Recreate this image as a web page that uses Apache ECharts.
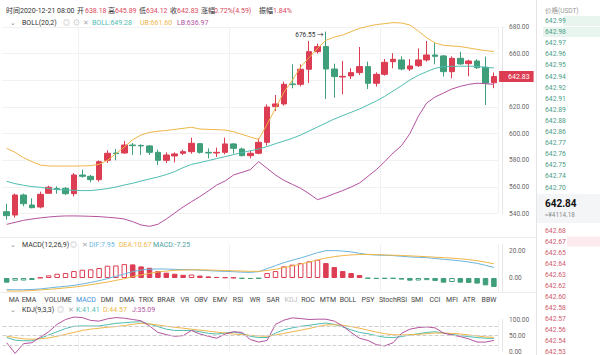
<!DOCTYPE html>
<html><head><meta charset="utf-8">
<script src="https://cdn.jsdelivr.net/npm/echarts@6/dist/echarts.min.js"></script>
<style>html,body{margin:0;padding:0;background:#fff}#c{width:600px;height:355px}</style>
</head><body><div id="c"></div>
<script>
// ---------- data ----------
const categories = [];
(function(){ const end = Date.UTC(2020,11,21,8); for (let i=58;i>=0;i--){ const d=new Date(end-i*4*3600e3); categories.push(d.toISOString().slice(0,16).replace('T',' ')); } })();
const opens = [541.5,539,554,546.5,545,555.3,558.8,559,555,569,
  568,565.5,580,585.5,585.5,591.5,591.2,590.8,586,580,
  583.3,585.3,586.5,592.5,586,585.5,586,592.3,588.5,583.5,
  585.3,593.5,620.3,622.3,637.3,637,648.3,661.5,665.3,648.5,
  642.5,643.3,645.8,650.3,637.8,644.5,654,655.3,648.5,651,
  655.3,659,658.3,646.5,656.5,652.5,654.5,649.8,638.18];
const closes = [538.5,554,547.5,544.5,554.5,559.8,558.2,555,569,568,
  565.5,579,585.3,585,591.5,591,590.8,586,580,584,
  584.8,586.5,592.8,586,585.5,586,592.3,589,583.5,585.3,
  593.5,620,622.3,637,636.8,648.3,661.5,665.3,648.5,642.8,
  643,645.8,650.3,637.8,644.5,653.5,655.8,648.5,650.8,655.3,
  659,658,646.5,656.5,652.3,654.5,649.5,637.8,642.83];
const lows = [535.55,537,545.5,544,544,555,555,554,553,567,
  563.5,564,578,580,585,584,584,584,576.5,578,
  578.5,584,585,585,581.5,582.5,584.5,585,583,581.5,
  584.5,591,617,621,634,635.5,638,660,626,627,
  629.5,641,644,633.5,635.3,643.5,649,647.5,647,650,
  654,652,642.8,641.5,651.5,643,648.5,621.5,634.12];
const highs = [547.5,555,555,551.5,556.5,561,560.5,560,570.5,573,
  569,580,587.5,588.5,594.5,593,592,591.5,588,586,
  586,588,597,593,589,589.5,597,593,589.5,587,
  596.5,622,629,639,652,652,669.5,667.5,676.55,652.5,
  654.5,649,665,654,646,656,660.3,658,656,664,
  669.5,668,659,658,661.5,655.5,655.8,657.8,645.89];
const bollUpper = [589,586,582,579,576.5,575.8,575.7,575.7,575.7,575.8,
  576,577,580,585,590,595.5,599,601,601.8,602.4,
  603.2,604,604.8,603.5,603.2,603,602.7,601.5,599.5,597.5,
  595.7,607,619,631,640,650,657,664,670,672.5,
  674,676.5,679,680.5,681.8,682.5,683.3,683,681.5,677,
  672,668,666.3,665.8,665.3,664.3,663.2,662.3,661.6];
const bollMid = [564.3,562.5,561.3,560.3,559.8,558.8,558,557.8,557.5,557.3,
  557.3,558,558.8,560,561.5,562.8,564.5,566,567.5,569.3,
  571.5,574.5,577,578.3,579.8,581.3,582.8,584.3,585.8,587.2,
  588.5,590.3,592.5,594.5,596.5,599,602,605,608,611,
  613.5,616,618.5,621.5,624.5,628,632,636,640.3,643.8,
  646.5,649,650.2,650.5,650.6,650.6,650.4,649.8,649.28];
const bollLower = [532,533.5,535,536,536.8,537.5,538,538.3,538.3,538.2,
  538,537.8,537.3,536.8,536,534,531.5,530.5,532,536,
  540.5,545,549,552.8,557,561.5,564.5,569,571,573,
  579,574,569,565,562,559,555,550.5,552.5,555,
  557.3,560,563,568,573,579,585.5,591,600,613,
  623,627.5,630.5,633.5,635.5,637,637.8,637.5,636.97];
const macdHist = [-3.5,-2,-1.9,-1.5,0.3,2,3.2,3.7,5.2,6.2,
  6.5,7.5,9.2,9.4,10.4,10.2,8.7,7.7,5.2,4,
  3.2,2.4,2.6,1.8,1.2,0.8,0.5,0.3,-0.5,-0.7,
  -0.4,3.7,5.2,8.7,10,11.2,12.5,13.7,11.2,8.2,
  5.2,3.7,2.2,-0.3,-0.6,-0.5,-0.4,-1.2,-2,-1.9,
  -1.6,-2.2,-3.5,-3,-3.5,-3.7,-4.2,-5.5,-6.7];
const difLine = [-8.7,-8.8,-8.8,-8.6,-8.2,-7.5,-6.8,-6.2,-5.5,-4.5,
  -3.3,-2,-0.5,1.3,3,4.8,6,6.6,6.8,6.7,
  6.5,6.3,6.2,5.9,5.5,5.2,5,4.7,4.4,4.2,
  4.8,7,9.3,11.5,13.3,15,17,19,20.5,20.6,
  20.2,19.6,18.5,17.6,17.2,17,16.8,16.3,15.8,15.5,
  15.2,14.7,14,13.5,12.8,12,11,9.5,7.95];
const deaLine = [-9.7,-9.8,-9.7,-9.4,-9,-8.5,-8,-7.4,-6.8,-6,
  -5,-4,-3,-1.8,-0.5,1,2.3,3.5,4.5,5.2,
  5.7,6,6.1,6.1,6,5.8,5.6,5.4,5.2,5,
  5,5.6,6.5,7.8,9,10.5,12,13.5,15,16,
  16.8,17.3,17.6,17.7,17.6,17.3,17.1,16.9,16.6,16.3,
  16,15.6,15.3,14.9,14.4,13.8,13,11.9,10.67];
const kLine = [44,36,34,34,42,52,62,72,79,80,
  80,80,84,88,90,92,93,86,78,70,
  66,66,66,62,57,55,58,61,57,48,
  44,44,58,68,74,79,82,86,89,85,
  77,68,60,56,50,45,44,47,52,56,
  60,62,58,54,50,47,44,42,41.41];
const dLine = [48,44,40,39,40,43,48,54,60,66,
  70,73,76,78,81,85,88,86,83,79,
  76,73,70,67,64,61,58,55,53,51,
  49,48,52,57,62,67,72,78,83,84,
  82,78,73,67,61,56,53,52,53,54,
  56,58,58,57,55,52,49,46,44.57];
const jLine = [28,-5,25,28,45,62,85,100,107.7,106,
  97,95,102,106,104,100,96,80,60,53,
  48,50,66,55,48,42,55,62,60,38,
  30,35,85,98,105,103,100,101,101,95,
  80,60,42,35,22,18,28,57,70,75,
  77,74,58,52,47,40,30,30,35.09];
const priceTicks = [540,560,580,600,620,640,660,680];
const askPrices = ['642.99','642.98','642.97','642.96','642.95','642.94','642.92','642.91','642.89','642.88','642.86','642.77','642.76','642.75','642.74','642.70'];
const bidPrices = ['642.68','642.67','642.65','642.64','642.63','642.62','642.60','642.58','642.57','642.56','642.54','642.53'];
const lastPrice = '642.84', lastCny = '≈¥4114.18';
const tabNames = ['MA','EMA','VOLUME','MACD','DMI','DMA','TRIX','BRAR','VR','OBV','EMV','RSI','WR','SAR','KDJ','ROC','MTM','BOLL','PSY','StochRSI','SMI','CCI','MFI','ATR','BBW'];

// ---------- style ----------
const FONT = 'Roboto, "Noto Sans CJK SC", sans-serif';
const UP = '#dc3d52', DOWN = '#3f9f7a';
const TEAL = '#4fbdb1', ORANGE = '#efb648', PURPLE = '#b4529f', DIFC = '#6ab5de', MACDC = '#4aa39c';
const RED = '#d9485b';

const lastClose = closes[closes.length-1];
const candleData = opens.map((o,i)=>[o, closes[i], lows[i], highs[i]]);
const hiVal = Math.max(...highs), hiIdx = highs.indexOf(hiVal);
const loVal = Math.min(...lows), loIdx = lows.indexOf(loVal);
const macdData = macdHist.map((v,i)=>{
  const rising = i>0 && v > macdHist[i-1];
  const c = v >= 0 ? UP : DOWN;
  return {value:v, itemStyle:{color: rising ? '#ffffff' : c, borderColor:c, borderWidth:1}};
});

const L = 2.5, W = 495.6;
const vSplit = {show:true, interval:(i)=> i===9||i===27||i===45, lineStyle:{color:'#f1f1f1'}};
function xa(gi, split){ return {type:'category', gridIndex:gi, data:categories, boundaryGap:true,
  axisLine:{show:false}, axisTick:{show:false}, axisLabel:{show:false}, splitLine: split}; }
const yLabel = {fontSize:6.5, color:'#666', fontFamily:FONT, margin:7};

function t(x,y,text,fill,size,extra){ return {type:'text', x:x, y:y, silent:true, z:10,
  style:Object.assign({text:text, fill:fill, fontSize:size||7, fontFamily:FONT, verticalAlign:'middle', align:'left'}, extra||{})}; }

const g = [];
g.push({type:'line', shape:{x1:536.5,y1:0,x2:536.5,y2:355}, style:{stroke:'#e4e4e4', lineWidth:1}});
g.push({type:'line', shape:{x1:0,y1:237.5,x2:536,y2:237.5}, style:{stroke:'#ececec', lineWidth:1}});
g.push({type:'line', shape:{x1:0,y1:292.5,x2:536,y2:292.5}, style:{stroke:'#ececec', lineWidth:1}});
g.push({type:'rect', shape:{x:563,y:16,width:37,height:10}, style:{fill:'#e8f5ee'}});
g.push({type:'rect', shape:{x:543,y:27,width:57,height:10}, style:{fill:'#e8f5ee'}});
g.push({type:'rect', shape:{x:567,y:236.5,width:33,height:10}, style:{fill:'#fcebee'}});
g.push({type:'rect', shape:{x:537,y:194,width:63,height:29}, style:{fill:'#f4f5f7'}});
[[6,'时间2020-12-21 08:00','#333'],[77,'开','#333'],[85,'638.18',RED],[108,'高','#333'],[115,'645.89',RED],
 [139,'低','#333'],[146,'634.12',RED],[170,'收','#333'],[177,'642.83',RED],[201,'涨幅','#333'],
 [214,'0.72%(4.59)',RED],[259,'振幅','#333'],[273,'1.84%',RED]].forEach(a=>g.push(t(a[0],11,a[1],a[2],7)));
[[10,'⌄','#888'],[22,'BOLL(20,2)','#333'],[63,'◎','#aaa'],[73,'⊙','#aaa'],[83,'✕','#aaa'],
 [92,'BOLL:649.28',TEAL],[140,'UB:661.60',ORANGE],[177,'LB:636.97',PURPLE]].forEach(a=>g.push(t(a[0],23,a[1],a[2],7)));
[[10,'⌄','#888'],[22,'MACD(12,26,9)','#333'],[70,'◎','#aaa'],[82,'✕','#aaa'],
 [89,'DIF:7.95',DIFC],[119,'DEA:10.67',ORANGE],[153,'MACD:-7.25',MACDC]].forEach(a=>g.push(t(a[0],245,a[1],a[2],7)));
[[10,'⌄','#888'],[22,'KDJ(9,3,3)','#333'],[57,'◎','#aaa'],[68,'✕','#aaa'],
 [76,'K:41.41',TEAL],[103,'D:44.57',ORANGE],[132,'J:35.09',PURPLE]].forEach(a=>g.push(t(a[0],310,a[1],a[2],7)));
const tabX = [14,29,58,86,107,127,146,166,185,201,220,238,255,273,291,308,328,348,368,393,417,435,452,469,489];
tabNames.forEach((n,i)=>g.push(t(tabX[i],299.5,n, n==='MACD' ? '#3f8fd8' : (n==='KDJ' ? '#bbbbbb' : '#444'), 7, {align:'center'})));
g.push(t(545,11,'价格(USDT)','#999',6.5));
askPrices.forEach((p,i)=>g.push(t(545,21+i*11.1,p,'#4a9e86',6.8)));
g.push(t(545,203,lastPrice,'#111',10,{fontWeight:'bold'}));
g.push(t(545,214.5,lastCny,'#888',6.3));
bidPrices.forEach((p,i)=>g.push(t(545,230.5+i*11.0,p,'#cf5a6c',6.8)));

const option = {
  animation:false,
  backgroundColor:'#fff',
  textStyle:{fontFamily:FONT},
  grid:[
    {left:L, width:W, top:27, height:186.67},
    {left:L, width:W, top:244.67, height:46.67},
    {left:L, width:W, top:319.5, height:36.4}
  ],
  xAxis:[xa(0,vSplit), xa(1,vSplit), xa(2,vSplit)],
  yAxis:[
    {type:'value', gridIndex:0, position:'right', offset:4, min:priceTicks[0], max:priceTicks[priceTicks.length-1], interval:20,
      axisLine:{show:true, lineStyle:{color:'#e6e6e6'}}, axisTick:{show:false},
      axisLabel:Object.assign({formatter:v=> Math.abs(v-lastClose) < 8 ? '' : v.toFixed(2)}, yLabel), splitLine:{lineStyle:{color:'#f1f1f1'}}},
    {type:'value', gridIndex:1, position:'right', offset:4, min:-10, max:25, interval:5,
      axisLine:{show:true, lineStyle:{color:'#e6e6e6'}}, axisTick:{show:false},
      axisLabel:Object.assign({formatter:v=>(v===0||v===20)?v.toFixed(2):''}, yLabel), splitLine:{show:false}},
    {type:'value', gridIndex:2, position:'right', offset:4, min:0, max:100, interval:50,
      axisLine:{show:true, lineStyle:{color:'#e6e6e6'}}, axisTick:{show:false},
      axisLabel:Object.assign({formatter:v=>v.toFixed(2)}, yLabel), splitLine:{show:false}}
  ],
  series:[
    {type:'candlestick', xAxisIndex:0, yAxisIndex:0, data:candleData, barWidth:6, clip:false,
      itemStyle:{color:UP, color0:DOWN, borderColor:UP, borderColor0:DOWN, borderWidth:1},
      markPoint:{symbol:'circle', symbolSize:1, itemStyle:{color:'rgba(0,0,0,0)'}, silent:true, animation:false,
        label:{fontSize:6.5, color:'#333', fontFamily:FONT},
        data:[
          {coord:[hiIdx, hiVal], label:{position:'left', distance:2, offset:[0,3], formatter:hiVal.toFixed(2)+' →'}},
          {coord:[loIdx, loVal], label:{position:'right', distance:0, offset:[-4,0], formatter:'⌐'+loVal.toFixed(2)}}
        ]},
      markLine:{symbol:['none','none'], silent:true, animation:false, z:20,
        lineStyle:{color:'rgba(220,61,82,0.0)', width:1, type:'solid', opacity:1},
        label:{show:true, position:'end', distance:1, formatter:lastClose.toFixed(2), opacity:1,
          backgroundColor:UP, color:'#ffffff', fontSize:7, fontFamily:FONT, padding:[2,4,2,9]},
        data:[{yAxis:lastClose}]}
    },
    {type:'line', xAxisIndex:0, yAxisIndex:0, data:bollUpper, showSymbol:false, clip:false, lineStyle:{color:ORANGE, width:1}},
    {type:'line', xAxisIndex:0, yAxisIndex:0, data:bollMid, showSymbol:false, clip:false, lineStyle:{color:TEAL, width:1}},
    {type:'line', xAxisIndex:0, yAxisIndex:0, data:bollLower, showSymbol:false, clip:false, lineStyle:{color:PURPLE, width:1}},
    {type:'bar', xAxisIndex:1, yAxisIndex:1, data:macdData, barWidth:5.5},
    {type:'line', xAxisIndex:1, yAxisIndex:1, data:difLine, showSymbol:false, clip:false, lineStyle:{color:DIFC, width:1}},
    {type:'line', xAxisIndex:1, yAxisIndex:1, data:deaLine, showSymbol:false, clip:false, lineStyle:{color:ORANGE, width:1}},
    {type:'line', xAxisIndex:2, yAxisIndex:2, data:kLine, showSymbol:false, clip:false, lineStyle:{color:TEAL, width:1},
      markLine:{symbol:['none','none'], silent:true, animation:false, label:{show:false},
        lineStyle:{color:'#cfcfcf', type:'dashed', width:1}, data:[{yAxis:20},{yAxis:50},{yAxis:80}]}},
    {type:'line', xAxisIndex:2, yAxisIndex:2, data:dLine, showSymbol:false, clip:false, lineStyle:{color:ORANGE, width:1}},
    {type:'line', xAxisIndex:2, yAxisIndex:2, data:jLine, showSymbol:false, clip:false, lineStyle:{color:PURPLE, width:1}}
  ],
  graphic:g
};
const chart = echarts.init(document.getElementById('c'), null, {renderer:'svg', width:600, height:355});
chart.setOption(option);
</script>
</body></html>
